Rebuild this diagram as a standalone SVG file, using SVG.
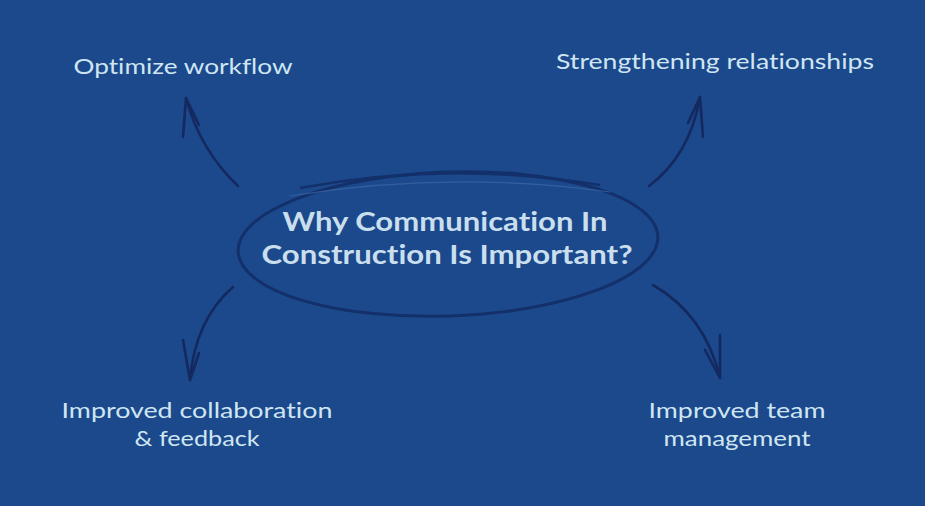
<svg xmlns="http://www.w3.org/2000/svg" width="925" height="506" viewBox="0 0 925 506">
<defs>
<style>
.bg{fill:#1b498c}
text{font-variant-ligatures:none;font-feature-settings:"liga" 0}
.lbl{font-family:Lato,"Open Sans","Liberation Sans",sans-serif;font-size:21px;fill:#cfe6f2;text-anchor:middle}
.title{font-family:Lato,"Open Sans","Liberation Sans",sans-serif;font-size:26px;font-weight:700;fill:#c9dfee;text-anchor:middle}
.ink{fill:none;stroke:#14295f;stroke-width:2.6;stroke-linecap:round;stroke-linejoin:round}
</style>
</defs>
<rect class="bg" x="0" y="0" width="925" height="506"/>
<g id="center">
<ellipse cx="448" cy="244" rx="210" ry="72" transform="rotate(-2 448 244)" fill="none" stroke="#14306a" stroke-width="3"/>
<path d="M300 188 Q450 160 600 185" fill="none" stroke="#14306a" stroke-width="2.5"/>
<path d="M290 196 Q450 170 610 192" fill="none" stroke="#3f6aa6" stroke-width="1.2" opacity="0.7"/>
<text class="title" x="445" y="231" textLength="325" lengthAdjust="spacingAndGlyphs">Why Communication In</text>
<text class="title" x="447" y="264" textLength="371" lengthAdjust="spacingAndGlyphs">Construction Is Important?</text>
</g>
<g id="n-optimize">
<text class="lbl" x="183" y="74" textLength="219" lengthAdjust="spacingAndGlyphs">Optimize workflow</text>
</g>
<g id="n-strengthening">
<text class="lbl" x="715" y="69" textLength="318" lengthAdjust="spacingAndGlyphs">Strengthening relationships</text>
</g>
<g id="n-collab">
<text class="lbl" x="197" y="418" textLength="271" lengthAdjust="spacingAndGlyphs">Improved collaboration</text>
<text class="lbl" x="197" y="446" textLength="125" lengthAdjust="spacingAndGlyphs">&amp; feedback</text>
</g>
<g id="n-team">
<text class="lbl" x="737" y="418" textLength="177" lengthAdjust="spacingAndGlyphs">Improved team</text>
<text class="lbl" x="737" y="446" textLength="147" lengthAdjust="spacingAndGlyphs">management</text>
</g>
<g id="connectors">
<path class="ink" d="M238 186 Q200 150 186 98"/>
<path class="ink" d="M186 98 L183 137 M186 98 L199 125"/>
<path class="ink" d="M649 186 Q690 155 700 97"/>
<path class="ink" d="M700 97 L703 137 M700 97 L688 123"/>
<path class="ink" d="M653 285 Q705 315 720 378"/>
<path class="ink" d="M720 378 L720 335 M720 378 L705 350"/>
<path class="ink" d="M233 287 Q195 320 190 380"/>
<path class="ink" d="M190 380 L183 340 M190 380 L199 353"/>
</g>
</svg>
